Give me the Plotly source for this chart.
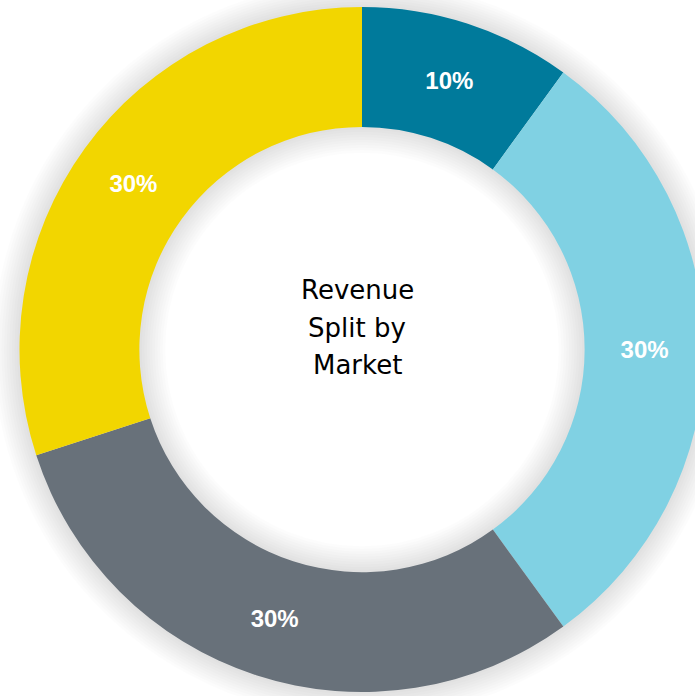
import plotly.graph_objects as go

markets = ["Market A", "Market B", "Market C", "Market D"]
shares = [10, 30, 30, 30]
colors = ["#007A9B", "#80D1E3", "#68717A", "#F2D600"]
title_lines = ["Revenue", "Split by", "Market"]

W, H = 720, 696          # figure a bit wider than the window, the ring is cut on the right
cx, cy = 362, 349.5      # ring centre in pixels from top-left
R = 342.5                # outer radius
hole = 0.65
r = R * hole

fig = go.Figure()

# soft shadow around the ring, a stack of faint wide circles
for k in range(1, 11):
    d = 2.6 * k
    rc = (R + r) / 2
    fig.add_shape(
        type="circle", xref="paper", yref="paper", layer="below",
        x0=(cx - rc) / W, x1=(cx + rc) / W,
        y0=1 - (cy + rc) / H, y1=1 - (cy - rc) / H,
        line=dict(color="rgba(0,0,0,0.013)", width=(R - r) + 2 * d),
        fillcolor="rgba(0,0,0,0)",
    )

fig.add_trace(go.Pie(
    labels=markets,
    values=shares,
    sort=False,
    direction="clockwise",
    rotation=0,
    hole=hole,
    marker=dict(colors=colors, line=dict(width=0)),
    textinfo="percent",
    textposition="inside",
    insidetextorientation="horizontal",
    textfont=dict(family="Liberation Sans", size=24, color="white", weight="bold"),
    domain=dict(x=[(cx - R) / W, (cx + R) / W], y=[1 - (cy + R) / H, 1 - (cy - R) / H]),
    showlegend=False,
))

# centre caption, one annotation per line to get the looser line spacing
for i, line in enumerate(title_lines):
    fig.add_annotation(
        x=(cx - 5) / W, y=1 - (290 + 37.5 * i) / H, xref="paper", yref="paper",
        text=line, showarrow=False,
        font=dict(family="DejaVu Sans", size=26, color="black"),
    )

fig.update_layout(
    width=W, height=H,
    margin=dict(l=0, r=0, t=0, b=0),
    paper_bgcolor="white",
    plot_bgcolor="white",
)

fig.write_html(
    "out.html",
    config={"displayModeBar": False},
    post_script="document.body.style.margin='0';document.body.style.overflow='hidden';",
)
